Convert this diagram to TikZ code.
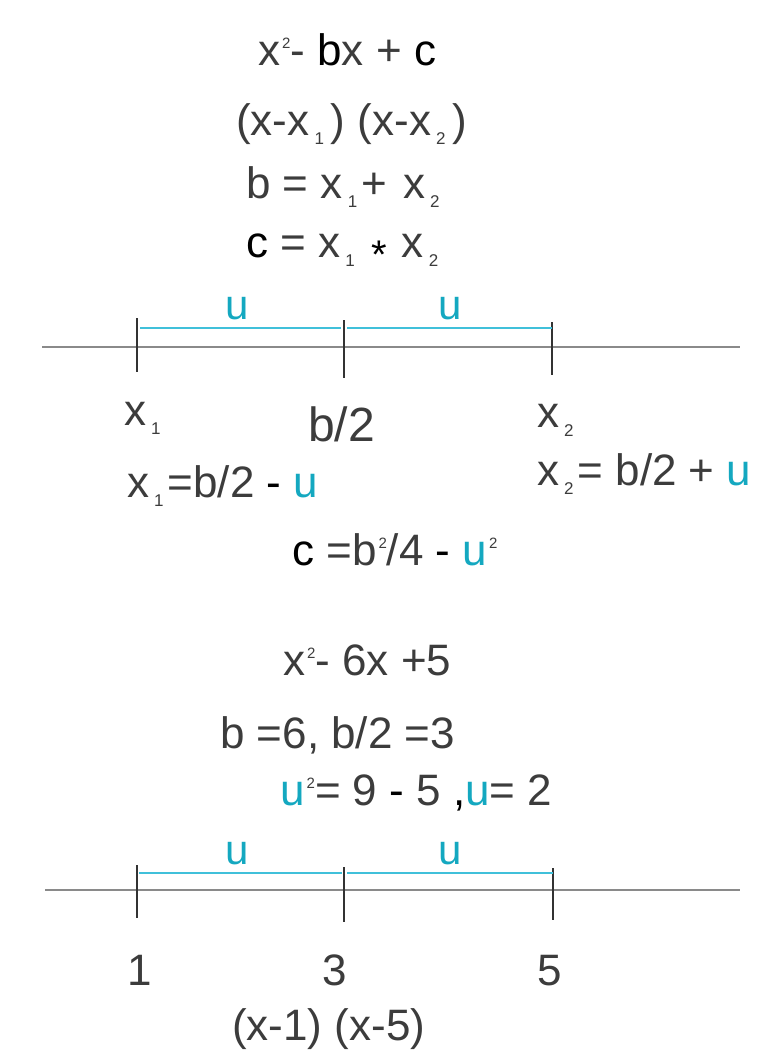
\documentclass[tikz,border=0pt]{standalone}
\usepackage{fontspec}
\setmainfont{Liberation Sans}
\definecolor{txt}{HTML}{3C3C3C}
\definecolor{ucol}{HTML}{14A8C0}
\definecolor{uline}{HTML}{40C0DA}
\definecolor{axiscol}{HTML}{8A8A8A}
\definecolor{tickcol}{HTML}{333333}
\newcommand\Sb[1]{\hspace{5pt}\raisebox{-9pt}{\fontsize{17}{17}\selectfont #1}\hspace{4pt}}
\newcommand\Sp[1]{\hspace{2pt}\raisebox{17pt}{\fontsize{15}{15}\selectfont #1}}
\newcommand\U{{\color{ucol}u}}
\tikzset{
  lbl/.style={inner sep=0pt, anchor=base west, text=txt, font=\fontsize{44}{52}\selectfont},
  ulbl/.style={inner sep=0pt, anchor=base, text=ucol, font=\fontsize{42}{48}\selectfont},
  axis/.style={draw=axiscol, line width=2pt},
  tickmark/.style={draw=tickcol, line width=2pt},
  useg/.style={draw=uline, line width=2.4pt}
}
\begin{document}
\begin{tikzpicture}[x=1pt,y=-1pt]
\useasboundingbox[fill=white] (0,0) rectangle (780,1060);
% top formulas
\node[lbl] (f1) at (258,65) {x\Sp{2}- {\color{black}b}x + {\color{black}c}};
\node[lbl] (f2) at (236,135) {(x-x\Sb{1}\hspace{3pt}) (x-x\Sb{2}\hspace{3pt})};
\node[lbl] (f3) at (246,198) {b = x\Sb{1}+\hspace{4pt} x\Sb{2}};
\node[lbl] (f4) at (246,257) {{\color{black}c} = x\Sb{1} {\color{black}\raisebox{-11pt}{\fontsize{40}{40}\selectfont *}}\hspace{3pt} x\Sb{2}};
% number line 1
\coordinate (a1) at (42,347);
\coordinate (b1) at (740,347);
\path[axis] (a1) -- (b1);
\coordinate (p1) at (137,347);
\coordinate (p2) at (344,347);
\coordinate (p3) at (552,347);
\path[tickmark] ([yshift=29]p1) -- ([yshift=-25]p1);
\path[tickmark] ([yshift=27]p2) -- ([yshift=-31]p2);
\path[tickmark] ([yshift=25]p3) -- ([yshift=-28]p3);
\path[useg] ([xshift=3,yshift=19]p1) -- ([xshift=-3,yshift=19]p2);
\path[useg] ([xshift=3,yshift=19]p2) -- ([yshift=19]p3);
\node[ulbl] (u1) at (237,319) {u};
\node[ulbl] (u2) at (450,319) {u};
% labels below line 1
\node[lbl] (x1) at (124,425) {x\Sb{1}};
\node[lbl, font=\fontsize{48}{54}\selectfont] (bh) at (308,441) {b/2};
\node[lbl] (x2) at (537,427) {x\Sb{2}};
\node[lbl] (e1) at (127,497) {x\Sb{1}=b/2 {\color{black}-} \U};
\node[lbl] (e2) at (537,485) {x\Sb{2}= b/2 + \U};
\node[lbl] (e3) at (292,565) {{\color{black}c} =b\Sp{2}/4 {\color{black}-} \U\Sp{2}};
% bottom example
\node[lbl] (g1) at (283,675) {x\Sp{2}- 6x +5};
\node[lbl] (g2) at (220,748) {b =6, b/2 =3};
\node[lbl] (g3) at (280,805) {\U\Sp{2}= 9 {\color{black}-} 5 {\color{black},}\U= 2};
% number line 2
\coordinate (a2) at (45,890);
\coordinate (b2) at (740,890);
\path[axis] (a2) -- (b2);
\coordinate (q1) at (137,890);
\coordinate (q2) at (344,890);
\coordinate (q3) at (553,890);
\path[tickmark] ([yshift=25]q1) -- ([yshift=-28]q1);
\path[tickmark] ([yshift=23]q2) -- ([yshift=-32]q2);
\path[tickmark] ([yshift=22]q3) -- ([yshift=-30]q3);
\path[useg] ([xshift=2,yshift=17]q1) -- ([xshift=-2,yshift=17]q2);
\path[useg] ([xshift=3,yshift=17]q2) -- ([yshift=17]q3);
\node[ulbl] (v1) at (237,864) {u};
\node[ulbl] (v2) at (450,864) {u};
\node[lbl, anchor=base] (n1) at (140,985) {1};
\node[lbl, anchor=base] (n3) at (335,985) {3};
\node[lbl, anchor=base] (n5) at (550,985) {5};
\node[lbl] (fa) at (232,1040) {(x-1) (x-5)};
\end{tikzpicture}
\end{document}
